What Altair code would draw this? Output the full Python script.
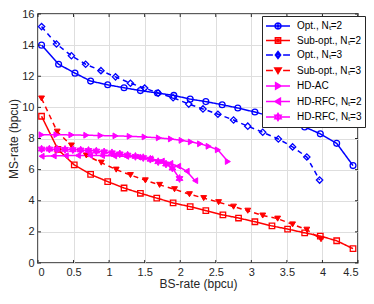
import altair as alt
import pandas as pd

series_names = ["Opt., Nₜ=2", "Sub-opt., Nₜ=2", "Opt., Nₜ=3", "Sub-opt., Nₜ=3",
                "HD-AC", "HD-RFC, Nₜ=2", "HD-RFC, Nₜ=3"]

opt2_x = [0.05, 0.29, 0.52, 0.74, 0.98, 1.21, 1.44, 1.68, 1.91, 2.14, 2.36, 2.59, 2.81, 3.05, 3.29, 3.52, 3.75, 3.97, 4.20, 4.43]
opt2_y = [14.0, 12.77, 12.2, 11.69, 11.45, 11.26, 11.08, 10.92, 10.77, 10.53, 10.37, 10.17, 9.96, 9.70, 9.40, 9.08, 8.74, 8.30, 7.69, 6.26]

sub2_x = [0.05, 0.28, 0.51, 0.74, 0.98, 1.21, 1.44, 1.67, 1.90, 2.14, 2.36, 2.60, 2.82, 3.05, 3.29, 3.51, 3.75, 3.97, 4.20, 4.43]
sub2_y = [9.43, 7.3, 6.30, 5.69, 5.23, 4.82, 4.48, 4.17, 3.86, 3.62, 3.36, 3.09, 2.89, 2.65, 2.38, 2.18, 1.94, 1.73, 1.43, 0.92]

opt3_x = [0.05, 0.26, 0.47, 0.67, 0.885, 1.09, 1.30, 1.50, 1.69, 1.90, 2.12, 2.32, 2.53, 2.75, 2.95, 3.16, 3.38, 3.58, 3.78, 3.96]
opt3_y = [15.19, 14.07, 13.32, 12.77, 12.36, 11.96, 11.55, 11.24, 10.92, 10.62, 10.21, 9.90, 9.56, 9.19, 8.79, 8.40, 7.97, 7.46, 6.81, 5.33]

sub3_x = [0.05, 0.27, 0.47, 0.68, 0.89, 1.10, 1.30, 1.51, 1.71, 1.92, 2.13, 2.33, 2.54, 2.75, 2.95, 3.16, 3.37, 3.58, 3.78, 3.98]
sub3_y = [10.57, 8.44, 7.55, 6.91, 6.45, 6.00, 5.65, 5.31, 5.02, 4.74, 4.42, 4.17, 3.91, 3.62, 3.36, 3.05, 2.85, 2.48, 2.14, 1.53]

hdac_x = [0.05, 0.26, 0.47, 0.68, 0.88, 1.09, 1.29, 1.50, 1.70, 1.87, 2.02, 2.15, 2.28, 2.40, 2.53, 2.67]
hdac_y = [8.24, 8.24, 8.23, 8.21, 8.19, 8.17, 8.14, 8.10, 8.04, 7.97, 7.88, 7.78, 7.66, 7.50, 7.27, 6.52]

rfc2_x = [0.05, 0.22, 0.39, 0.56, 0.73, 0.90, 1.07, 1.24, 1.41, 1.58, 1.74, 1.86, 1.97, 2.09, 2.21]
rfc2_y = [6.86, 6.88, 6.90, 6.91, 6.91, 6.90, 6.88, 6.85, 6.80, 6.70, 6.55, 6.40, 6.22, 5.90, 5.29]

rfc3_x = [0.05, 0.16, 0.27, 0.38, 0.49, 0.60, 0.71, 0.82, 0.93, 1.04, 1.15, 1.26, 1.37, 1.48, 1.58, 1.69, 1.80, 1.89, 1.99]
rfc3_y = [7.32, 7.32, 7.31, 7.30, 7.28, 7.26, 7.23, 7.19, 7.14, 7.08, 7.01, 6.93, 6.85, 6.77, 6.67, 6.51, 6.36, 6.10, 5.43]

x_ticks = [0, 0.5, 1, 1.5, 2, 2.5, 3, 3.5, 4, 4.5]
y_ticks = [0, 2, 4, 6, 8, 10, 12, 14, 16]

all_x = [opt2_x, sub2_x, opt3_x, sub3_x, hdac_x, rfc2_x, rfc3_x]
all_y = [opt2_y, sub2_y, opt3_y, sub3_y, hdac_y, rfc2_y, rfc3_y]

rows = []
for name, xs, ys in zip(series_names, all_x, all_y):
    for xv, yv in zip(xs, ys):
        rows.append({"series": name, "x": xv, "y": yv})
df = pd.DataFrame(rows)

# ---- styles ----
colors = ["#0000ff", "#ff0000", "#0000ff", "#ff0000", "#ff00ff", "#ff00ff", "#ff00ff"]
dashes = [[1, 0], [1, 0], [5, 4], [5, 4], [1, 0], [1, 0], [1, 0]]
hexagram = ("M0,-1L0.289,-0.5L0.866,-0.5L0.577,0L0.866,0.5L0.289,0.5L0,1L-0.289,0.5"
            "L-0.866,0.5L-0.577,0L-0.866,-0.5L-0.289,-0.5Z")
point_shapes = ["circle", "square", "diamond", "triangle-down", "triangle-right", "triangle-left", hexagram]
point_filled = [False, False, False, True, True, True, True]
point_sizes = [34, 30, 40, 34, 34, 34, 60]

# legend glyphs: line + marker, in units of 6 px (symbol size 144)
solid = "M-2,0L2,0"
dashed = "M-2,0L-0.85,0M0.85,0L2,0"
m_circle = ("M0.5,0L0.433,0.25L0.25,0.433L0,0.5L-0.25,0.433L-0.433,0.25L-0.5,0"
            "L-0.433,-0.25L-0.25,-0.433L0,-0.5L0.25,-0.433L0.433,-0.25Z"
            "M0.2,0L0,0.2L-0.2,0L0,-0.2Z")
m_square = "M-0.44,-0.44L0.44,-0.44L0.44,0.44L-0.44,0.44ZM-0.16,-0.16L0.16,-0.16L0.16,0.16L-0.16,0.16Z"
m_diamond = "M0,-0.6L0.44,0L0,0.6L-0.44,0ZM0,-0.24L0.18,0L0,0.24L-0.18,0Z"
m_tdown = "M-0.54,-0.4L0.54,-0.4L0,0.52ZM-0.2,-0.2L0.2,-0.2L0,0.2Z"
m_tright = "M-0.4,-0.54L0.52,0L-0.4,0.54ZM-0.2,-0.2L0.2,0L-0.2,0.2Z"
m_tleft = "M0.4,-0.54L-0.52,0L0.4,0.54ZM0.2,-0.2L-0.2,0L0.2,0.2Z"
m_hex = ("M0,-0.6L0.174,-0.3L0.52,-0.3L0.346,0L0.52,0.3L0.174,0.3L0,0.6L-0.174,0.3"
         "L-0.52,0.3L-0.346,0L-0.52,-0.3L-0.174,-0.3ZM0.15,0L0,0.15L-0.15,0L0,-0.15Z")
legend_paths = [solid + m_circle, solid + m_square, dashed + m_diamond, dashed + m_tdown,
                solid + m_tright, solid + m_tleft, solid + m_hex]

FONT = "Liberation Sans"
xscale = alt.Scale(domain=[0, 4.5], nice=False, zero=False)
yscale = alt.Scale(domain=[0, 16], nice=False, zero=False)
color_scale = alt.Scale(domain=series_names, range=colors)

x_axis = alt.Axis(values=x_ticks, title="BS-rate (bpcu)", format="~g",
                  tickSize=0, domain=False, labelPadding=3, titlePadding=1)
y_axis = alt.Axis(values=y_ticks, title="MS-rate (bpcu)", format="~g",
                  tickSize=0, domain=False, labelPadding=4, titlePadding=1)


def X(field="x"):
    return alt.X(field + ":Q", scale=xscale, axis=x_axis)


def Y(field="y"):
    return alt.Y(field + ":Q", scale=yscale, axis=y_axis)


base = alt.Chart(df)

line_layers = []
point_layers = []
for name, c, d, shp, fl, sz in zip(series_names, colors, dashes, point_shapes, point_filled, point_sizes):
    sub = base.transform_filter(alt.datum.series == name)
    line_layers.append(sub.mark_line(color=c, strokeDash=d, strokeWidth=1.5).encode(x=X(), y=Y()))
    if fl:
        mk = dict(filled=True, fill=c, stroke=c, strokeWidth=1)
    else:
        mk = dict(filled=False, stroke=c, strokeWidth=1.3)
    point_layers.append(sub.mark_point(shape=shp, size=sz, opacity=1, **mk).encode(x=X(), y=Y()))

# inward tick marks on all four sides (tick values from the tick arrays)
xt_b = pd.DataFrame({"x": x_ticks, "y": [0.0] * len(x_ticks), "y2": [0.193] * len(x_ticks)})
xt_t = pd.DataFrame({"x": x_ticks, "y": [16.0] * len(x_ticks), "y2": [15.807] * len(x_ticks)})
yt_l = pd.DataFrame({"y": y_ticks, "x": [0.0] * len(y_ticks), "x2": [0.042] * len(y_ticks)})
yt_r = pd.DataFrame({"y": y_ticks, "x": [4.5] * len(y_ticks), "x2": [4.458] * len(y_ticks)})
tick_style = dict(color="#262626", strokeWidth=1)
tick_layers = [
    alt.Chart(xt_b).mark_rule(**tick_style).encode(x=X(), y=Y(), y2="y2:Q"),
    alt.Chart(xt_t).mark_rule(**tick_style).encode(x=X(), y=Y(), y2="y2:Q"),
    alt.Chart(yt_l).mark_rule(**tick_style).encode(x=X(), x2="x2:Q", y=Y()),
    alt.Chart(yt_r).mark_rule(**tick_style).encode(x=X(), x2="x2:Q", y=Y()),
]

leg = alt.Legend(title=None, orient="none", legendX=224, legendY=2,
                 symbolSize=144, symbolStrokeWidth=1.5, rowPadding=1.5,
                 padding=3, labelOffset=12, symbolOffset=6, labelFont=FONT, labelFontSize=10,
                 labelColor="black", fillColor="white", strokeColor="#262626")

legend_layer = base.transform_filter("datum.x < 0").mark_point(
    size=144, filled=False, strokeWidth=1.5, opacity=1
).encode(
    x=X(), y=Y(),
    color=alt.Color("series:N", scale=color_scale, legend=leg),
    shape=alt.Shape("series:N", scale=alt.Scale(domain=series_names, range=legend_paths), legend=leg),
)

chart = alt.layer(*line_layers, *point_layers, *tick_layers, legend_layer).properties(
    width=320, height=249,
    autosize=alt.AutoSizeParams(type="none"),
    padding={"left": 30, "top": 6, "right": 8, "bottom": 28},
).configure_view(
    stroke="#262626", strokeWidth=1.5
).configure_axis(
    labelFont=FONT, titleFont=FONT, labelFontSize=11, titleFontSize=12,
    labelColor="#262626", titleColor="#262626", titleFontWeight="normal",
    gridColor="#dedede", gridWidth=1, gridOpacity=1,
)

chart.save("out.html", embed_options={"renderer": "svg", "actions": False})
